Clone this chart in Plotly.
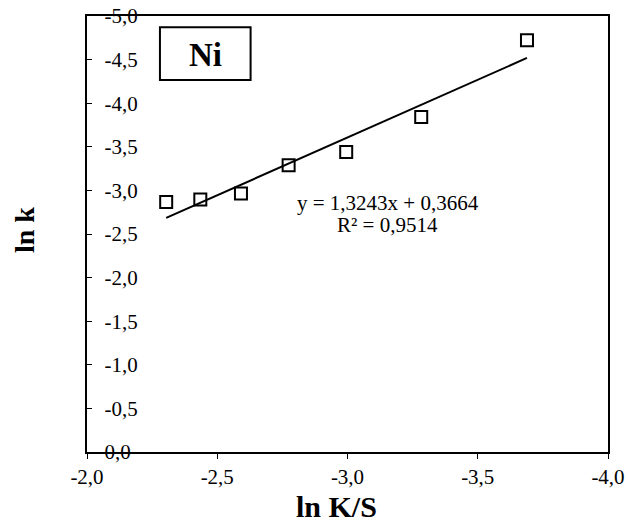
import plotly.graph_objects as go

# Data
ln_KS = [-2.304, -2.435, -2.591, -2.774, -2.995, -3.283, -3.689]
ln_k = [-2.868, -2.896, -2.965, -3.289, -3.441, -3.843, -4.721]

# Trendline coefficients as printed on the chart
slope = 1.3243
intercept = 0.3664
r2 = 0.9514

x_ticks = [-2.0, -2.5, -3.0, -3.5, -4.0]
y_ticks = [0.0, -0.5, -1.0, -1.5, -2.0, -2.5, -3.0, -3.5, -4.0, -4.5, -5.0]

FONT = "Liberation Serif"

x_line = [min(ln_KS), max(ln_KS)]
y_line = [slope * v + intercept for v in x_line]

fig = go.Figure()
fig.add_trace(go.Scatter(
    x=x_line, y=y_line, mode="lines",
    line=dict(color="black", width=2), showlegend=False, hoverinfo="skip"))
fig.add_trace(go.Scatter(
    x=ln_KS, y=ln_k, mode="markers",
    marker=dict(symbol="square-open", size=12, color="black",
                line=dict(color="black", width=2)),
    showlegend=False))

def fmt(v):
    return f"{v:.1f}".replace(".", ",")

fig.update_layout(
    width=628, height=524,
    margin=dict(l=87, r=20, t=16, b=72, autoexpand=False),
    paper_bgcolor="white", plot_bgcolor="white",
    font=dict(family=FONT, size=21, color="black"),
    xaxis=dict(
        range=[-2.0, -4.0], tickvals=x_ticks, ticktext=[fmt(v) for v in x_ticks],
        ticks="outside", ticklen=5, tickwidth=1.3, tickcolor="black",
        showline=True, linecolor="black", linewidth=1.5, mirror=True,
        showgrid=False, zeroline=False, automargin=False,
        tickfont=dict(family=FONT, size=21, color="black"),
    ),
    yaxis=dict(
        range=[0.0, -5.0], tickvals=y_ticks, ticktext=[fmt(v) for v in y_ticks],
        ticks="inside", ticklen=5, tickwidth=1.3, tickcolor="black",
        ticklabelposition="inside", ticklabeloverflow="allow",
        ticklabelstandoff=14, automargin=False,
        showline=True, linecolor="black", linewidth=1.5, mirror=True,
        showgrid=False, zeroline=False,
        tickfont=dict(family=FONT, size=21, color="black"),
    ),
    shapes=[dict(type="rect", xref="paper", yref="paper",
                 x0=0.140, x1=0.314, y0=0.853, y1=0.974,
                 line=dict(color="black", width=2), fillcolor="rgba(0,0,0,0)", layer="above")],
    annotations=[
        dict(text="<b>Ni</b>", xref="paper", yref="paper", x=0.228, y=0.911,
             xanchor="center", yanchor="middle",
             showarrow=False, font=dict(family=FONT, size=33, color="black")),
        dict(text=f"y = {str(slope).replace('.', ',')}x + {str(intercept).replace('.', ',')}",
             xref="paper", yref="paper", x=0.577, y=0.570, showarrow=False,
             xanchor="center", yanchor="middle",
             font=dict(family=FONT, size=21, color="black")),
        dict(text=f"R² = {str(r2).replace('.', ',')}",
             xref="paper", yref="paper", x=0.577, y=0.521, showarrow=False,
             xanchor="center", yanchor="middle",
             font=dict(family=FONT, size=21, color="black")),
        dict(text="<b>ln K/S</b>", xref="paper", yref="paper", x=0.478, y=-0.126,
             xanchor="center", yanchor="middle",
             showarrow=False, font=dict(family=FONT, size=30, color="black")),
        dict(text="<b>ln k</b>", xref="paper", yref="paper", x=-0.121, y=0.509,
             xanchor="center", yanchor="middle",
             textangle=-90, showarrow=False,
             font=dict(family=FONT, size=28, color="black")),
    ],
)

fig.write_html(
    "out.html",
    config={"displayModeBar": False},
    post_script="document.body.style.margin='0';document.body.style.overflow='hidden';",
)
